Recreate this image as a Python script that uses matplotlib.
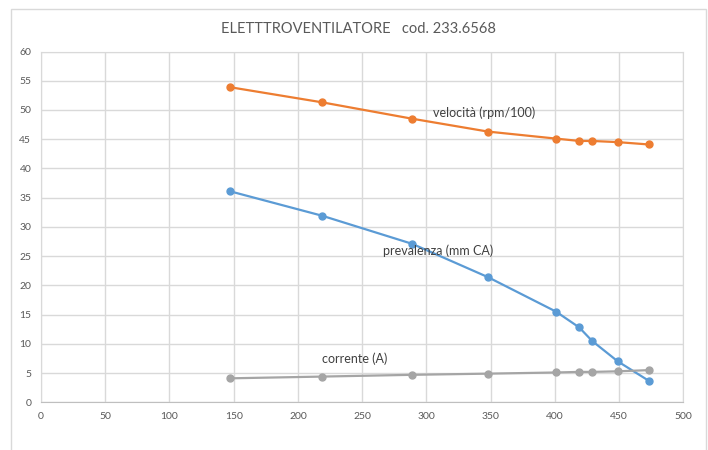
import matplotlib
matplotlib.use('Agg')
import matplotlib.pyplot as plt
from matplotlib.patches import Rectangle

# portata (asse x) e curve dell'elettroventilatore
portata = [147, 219, 289, 348, 401, 419, 429, 449, 473]
velocita = [53.9, 51.3, 48.5, 46.3, 45.1, 44.7, 44.7, 44.5, 44.1]
prevalenza = [36.1, 31.9, 27.1, 21.4, 15.5, 12.8, 10.5, 7.0, 3.7]
corrente = [4.1, 4.4, 4.7, 4.9, 5.1, 5.2, 5.2, 5.3, 5.5]

x_ticks = list(range(0, 501, 50))
y_ticks = list(range(0, 61, 5))

plt.rcParams['font.family'] = ['Lato', 'DejaVu Sans']

fig = plt.figure(figsize=(7.08, 4.5), dpi=100)
ax = fig.add_axes([41 / 708, 1 - 402.3 / 450, (683.3 - 41) / 708, (402.3 - 51.5) / 450])

# bordo esterno del grafico
fig.patches.append(Rectangle((11 / 708, -0.05), (706 - 11) / 708, 1.05 - 9 / 450,
                             transform=fig.transFigure, fill=False,
                             edgecolor='#d9d9d9', linewidth=1.0))

ax.plot(portata, velocita, '-o', color='#ED7D31', linewidth=1.6, markersize=5)
ax.plot(portata, prevalenza, '-o', color='#5B9BD5', linewidth=1.6, markersize=5)
ax.plot(portata, corrente, '-o', color='#A5A5A5', linewidth=1.6, markersize=5)

ax.text(305, 49.6, 'velocità (rpm/100)', fontsize=9, color='#404040', va='center')
ax.text(266, 25.9, 'prevalenza (mm CA)', fontsize=9, color='#404040', va='center')
ax.text(219, 7.4, 'corrente (A)', fontsize=9, color='#404040', va='center')

ax.set_xlim(0, 500)
ax.set_ylim(0, 60)
ax.set_xticks(x_ticks)
ax.set_yticks(y_ticks)
ax.tick_params(length=0, labelsize=7.5, colors='#595959', pad=7)
ax.grid(True, color='#d9d9d9', linewidth=1.0)
ax.set_axisbelow(True)
for side in ['top', 'right', 'left']:
    ax.spines[side].set_color('#d9d9d9')
ax.spines['bottom'].set_color('#bfbfbf')

fig.text(358 / 708, 1 - 29 / 450, 'ELETTTROVENTILATORE   cod. 233.6568',
         fontsize=10.5, color='#595959', ha='center', va='center')

fig.savefig('out.png', dpi=100)
